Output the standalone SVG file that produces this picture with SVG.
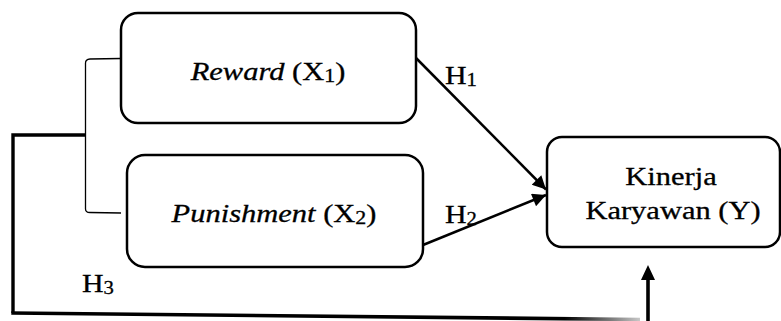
<svg xmlns="http://www.w3.org/2000/svg" width="781" height="321" viewBox="0 0 781 321">
<style>
.box{fill:#fff;stroke:#000;stroke-width:2.5}
.t{font-family:"Liberation Serif","Times New Roman",serif;font-size:25px;fill:#000;stroke:#000;stroke-width:0.3}
.h{font-size:26px}
.i{font-style:italic}
.sub{font-size:18px}
.thin{fill:none;stroke:#000;stroke-width:1.3}
.thick{fill:none;stroke:#000;stroke-width:3.4}
.arr{fill:none;stroke:#000;stroke-width:2.5}
</style>
<defs>
<marker id="ah" viewBox="0 0 10 10" refX="10" refY="5" markerWidth="6.4" markerHeight="5.4" markerUnits="strokeWidth" orient="auto">
<path d="M0,0 L10,5 L0,10 z" fill="#000"/>
</marker>
<linearGradient id="fade" gradientUnits="userSpaceOnUse" x1="12" y1="0" x2="640" y2="0">
<stop offset="0" stop-color="#000"/>
<stop offset="0.88" stop-color="#000"/>
<stop offset="1" stop-color="#c8c8c8"/>
</linearGradient>
</defs>
<g id="connectors">
<path class="thin" d="M121,58.5 L90,59 Q85.5,59.5 85.5,63 L85.5,209 Q85.5,212.5 90,212.5 L121,213"/>
<path class="thick" d="M85.5,135 L13,135 L13,313"/>
<path d="M11.3,313 L640,319.5" fill="none" stroke="url(#fade)" stroke-width="3.6"/>
<path d="M648,321 L648,279" fill="none" stroke="#000" stroke-width="3.6"/>
<path d="M648,265 L655,280 L641,280 z" fill="#000"/>
<line class="arr" x1="416" y1="58" x2="546" y2="189.5" marker-end="url(#ah)"/>
<line class="arr" x1="423" y1="245" x2="546" y2="195" marker-end="url(#ah)"/>
<text class="t h" transform="translate(445,84) scale(1.15,1)">H<tspan class="sub" dy="2">1</tspan></text>
<text class="t h" transform="translate(445,223) scale(1.15,1)">H<tspan class="sub" dy="2">2</tspan></text>
<text class="t h" transform="translate(82,292) scale(1.15,1)">H<tspan class="sub" dy="2">3</tspan></text>
</g>
<g id="reward">
<rect class="box" x="121" y="13" width="295" height="110" rx="17"/>
<text class="t" text-anchor="middle" transform="translate(268,80) scale(1.22,1)"><tspan class="i">Reward</tspan> (X<tspan class="sub" dy="2">1</tspan><tspan dy="-2">)</tspan></text>
</g>
<g id="punishment">
<rect class="box" x="127" y="155" width="296" height="112" rx="18"/>
<text class="t" text-anchor="middle" transform="translate(274,222) scale(1.22,1)"><tspan class="i">Punishment</tspan> (X<tspan class="sub" dy="2">2</tspan><tspan dy="-2">)</tspan></text>
</g>
<g id="kinerja">
<rect class="box" x="547" y="137" width="233" height="110" rx="15"/>
<text class="t" text-anchor="middle" transform="translate(671,185) scale(1.22,1)">Kinerja</text>
<text class="t" text-anchor="middle" transform="translate(673,219) scale(1.22,1)">Karyawan (Y)</text>
</g>
</svg>
